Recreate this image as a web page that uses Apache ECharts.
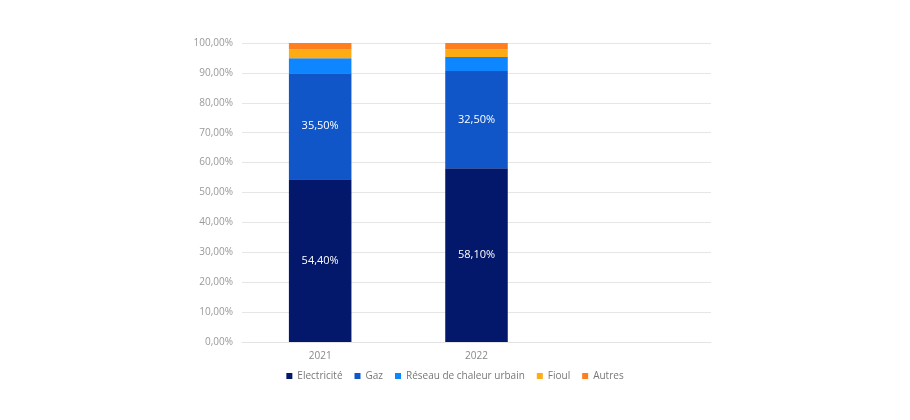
<!DOCTYPE html>
<html>
<head>
<meta charset="utf-8">
<script src="https://cdn.jsdelivr.net/npm/echarts@6/dist/echarts.min.js"></script>
<style>
  html, body { margin: 0; padding: 0; background: #fff; }
  #chart { width: 910px; height: 420px; }
</style>
</head>
<body>
<div id="chart"></div>
<script>
// years, plus an empty third slot as in the original
var years = ['2021', '2022', ''];
var electricite = [54.4, 58.1, null];
var gaz = [35.5, 32.5, null];
var reseau = [5.0, 4.7, null];
var fioul = [2.9, 2.6, null];
var autres = [2.2, 2.1, null];

var names = ['Electricité', 'Gaz', 'Réseau de chaleur urbain', 'Fioul', 'Autres'];
var colors = ['#04186b', '#1056c8', '#0d86ff', '#ffab14', '#ff7f1e'];
var values = [electricite, gaz, reseau, fioul, autres];

function pct(v) {
  return v.toFixed(2).replace('.', ',') + '%';
}

var series = [];
for (var i = 0; i < names.length; i++) {
  series.push({
    name: names[i],
    type: 'bar',
    stack: 'total',
    barWidth: '40%',
    data: values[i],
    itemStyle: { color: colors[i] },
    label: {
      show: i < 2,
      color: '#fff',
      fontSize: 11,
      fontFamily: 'Open Sans',
      formatter: function (p) { return pct(p.value); }
    }
  });
}

var chart = echarts.init(document.getElementById('chart'));
chart.setOption({
  animation: false,
  textStyle: { fontFamily: 'Open Sans' },
  grid: { left: 242, right: 199, top: 43, bottom: 78 },
  legend: {
    bottom: 34,
    left: 'center',
    itemWidth: 6,
    itemHeight: 6,
    itemGap: 12,
    icon: 'rect',
    textStyle: { color: '#777', fontSize: 10, fontFamily: 'Open Sans' },
    data: names
  },
  xAxis: {
    type: 'category',
    data: years,
    axisLine: { lineStyle: { color: '#e3e3e3' } },
    axisTick: { show: false },
    axisLabel: { color: '#888', fontSize: 10, margin: 9 }
  },
  yAxis: {
    type: 'value',
    min: 0,
    max: 100,
    interval: 10,
    axisLine: { show: false },
    axisTick: { show: false },
    splitLine: { lineStyle: { color: '#e6e6e6' } },
    axisLabel: {
      color: '#999',
      fontSize: 10,
      margin: 9,
      formatter: function (v) { return pct(v); }
    }
  },
  series: series
});
</script>
</body>
</html>
